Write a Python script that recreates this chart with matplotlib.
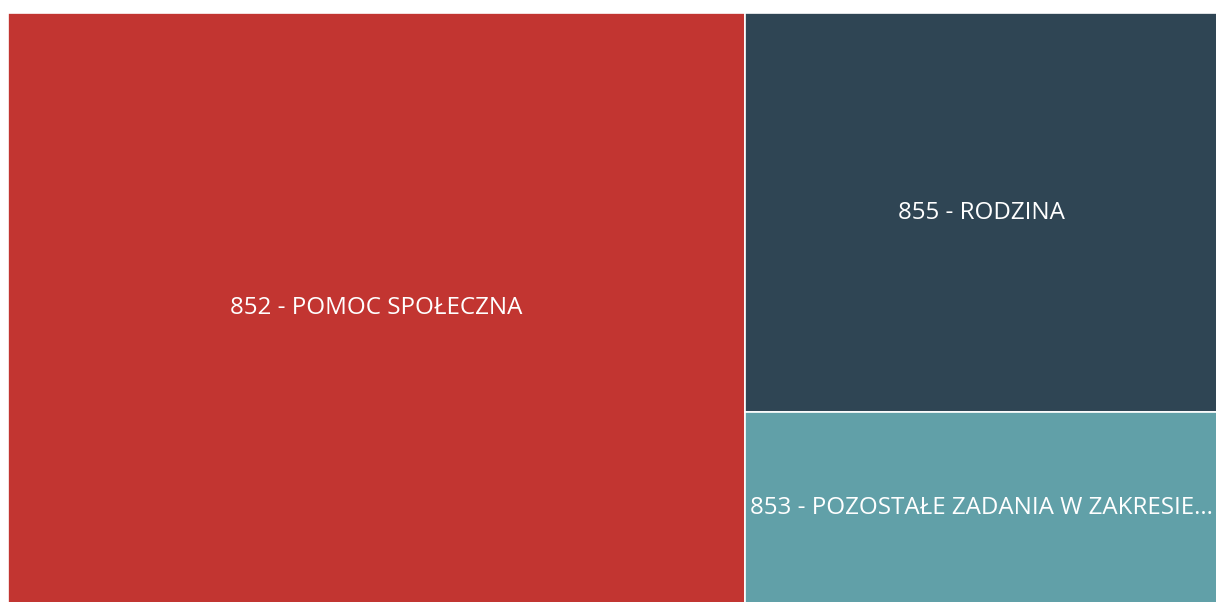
import matplotlib.pyplot as plt
from matplotlib.patches import Rectangle

# treemap data (share of total, read from block areas)
labels = ["852 - POMOC SPOŁECZNA", "855 - RODZINA", "853 - POZOSTAŁE ZADANIA W ZAKRESIE..."]
values = [60.9, 26.4, 12.7]
colors = ["#c23531", "#2f4554", "#61a0a8"]

plt.rcParams['font.family'] = ['Open Sans', 'DejaVu Sans']

fig = plt.figure(figsize=(12.16, 6.02), dpi=100)
# chart is cut at the bottom and right edges of the image
ax = fig.add_axes([8 / 1216, -2 / 602, 1210 / 1216, 591 / 602])
ax.set_xlim(0, 1)
ax.set_ylim(1, 0)
ax.axis('off')

total = sum(values)
# first item takes a full-height column, the rest stack in the remaining column
w0 = values[0] / total
rects = [(0, 0, w0, 1)]
rest = sum(values[1:])
y = 0
for v in values[1:]:
    h = v / rest
    rects.append((w0, y, 1 - w0, h))
    y += h

for (x, y, w, h), lab, c in zip(rects, labels, colors):
    ax.add_patch(Rectangle((x, y), w, h, facecolor=c, edgecolor='white', linewidth=1.2))
    ax.text(x + w / 2, y + h / 2, lab, color='white', fontsize=17.4,
            ha='center', va='center')

fig.savefig('out.png', dpi=100)
